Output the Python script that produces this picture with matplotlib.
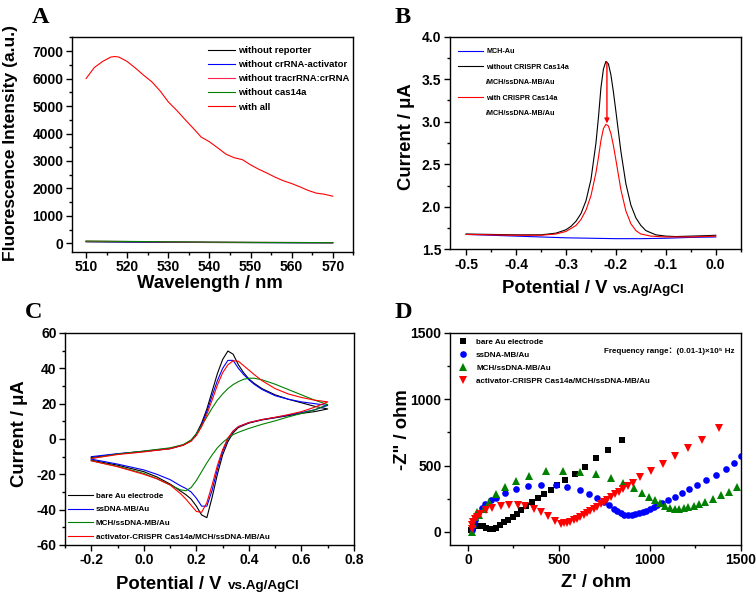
import matplotlib
matplotlib.use("Agg")
import matplotlib.pyplot as plt
from matplotlib.lines import Line2D
from matplotlib.ticker import MultipleLocator, FormatStrFormatter

plt.rcParams['font.family'] = ['Liberation Sans', 'DejaVu Sans', 'Noto Sans CJK SC']
plt.rcParams['font.weight'] = 'bold'
plt.rcParams['axes.unicode_minus'] = False

# ---- panel A: fluorescence ----
wl_all = [510, 512, 514, 516, 517, 518, 520, 522, 524, 526, 528, 530, 532, 534, 536, 538,
          540, 542, 544, 546, 548, 550, 552, 554, 556, 558, 560, 562, 564, 566, 568, 570]
with_all = [6000, 6400, 6620, 6780, 6800, 6780, 6620, 6380, 6120, 5880, 5550, 5150, 4850, 4520,
            4200, 3870, 3700, 3480, 3250, 3120, 3050, 2860, 2700, 2560, 2410, 2280, 2180, 2060,
            1930, 1830, 1790, 1720]
wl_low = [510, 520, 530, 540, 550, 560, 570]
no_reporter = [60, 50, 40, 35, 30, 25, 20]
no_activator = [70, 60, 50, 40, 35, 30, 30]
no_tracr = [80, 70, 55, 45, 40, 35, 30]
no_cas = [90, 75, 60, 50, 40, 35, 30]

# ---- panel B: DPV ----
b_mch_e = [-0.5, -0.4, -0.3, -0.2, -0.15, -0.1, -0.05, 0.0]
b_mch_i = [1.675, 1.655, 1.635, 1.625, 1.625, 1.63, 1.64, 1.645]
b_black_e = [-0.5, -0.45, -0.4, -0.35, -0.32, -0.3, -0.29, -0.28, -0.27, -0.26, -0.25, -0.24,
             -0.235, -0.23, -0.225, -0.22, -0.215, -0.21, -0.205, -0.2, -0.19, -0.18, -0.17,
             -0.16, -0.15, -0.14, -0.12, -0.1, -0.08, -0.05, -0.02, 0.0]
b_black_i = [1.68, 1.675, 1.67, 1.67, 1.69, 1.73, 1.77, 1.83, 1.92, 2.07, 2.32, 2.75,
             3.05, 3.40, 3.62, 3.71, 3.68, 3.55, 3.35, 3.12, 2.65, 2.27, 2.02,
             1.87, 1.78, 1.72, 1.67, 1.655, 1.65, 1.655, 1.66, 1.665]
b_red_e = [-0.5, -0.4, -0.35, -0.32, -0.3, -0.28, -0.27, -0.26, -0.25, -0.24, -0.235, -0.23,
           -0.225, -0.22, -0.215, -0.21, -0.205, -0.2, -0.19, -0.18, -0.17, -0.16, -0.15,
           -0.13, -0.1, -0.05, 0.0]
b_red_i = [1.675, 1.665, 1.665, 1.68, 1.71, 1.78, 1.85, 1.96, 2.13, 2.40, 2.58, 2.78,
           2.92, 2.97, 2.95, 2.86, 2.72, 2.55, 2.20, 1.95, 1.80, 1.72, 1.68,
           1.655, 1.645, 1.645, 1.655]

# ---- panel C: CV ----
cv_up_e = [-0.2, -0.1, 0.0, 0.1, 0.15, 0.18, 0.2, 0.22, 0.24, 0.26, 0.28, 0.3, 0.32, 0.34,
           0.36, 0.38, 0.4, 0.42, 0.45, 0.5, 0.55, 0.6, 0.65, 0.7]
cv_dn_e = [0.7, 0.65, 0.6, 0.55, 0.5, 0.45, 0.4, 0.36, 0.34, 0.32, 0.3, 0.28, 0.26, 0.24,
           0.22, 0.2, 0.18, 0.16, 0.14, 0.1, 0.05, 0.0, -0.1, -0.2]
bare_up = [-10.5, -8.5, -7, -5.5, -3.5, -1, 3, 9, 17, 27, 37, 45, 49.8, 48,
           42, 37.5, 34, 31.5, 28.5, 25, 22.5, 20.5, 18.5, 17]
bare_dn = [17, 15.5, 14.5, 13.2, 12, 10.8, 9, 6.5, 3.5, -1.5, -9, -20, -33, -44.5,
           -43, -38, -34, -31.5, -29.5, -25.5, -21.5, -18.5, -14.8, -12]
ss_up = [-10, -8.3, -7, -5.3, -3.3, -1, 2.5, 8, 15.5, 24.5, 33, 40, 44.5, 44.5,
         40, 36.5, 33.5, 31, 28, 24.5, 22.5, 21, 20, 19]
ss_dn = [19, 16.5, 15, 13.5, 12.2, 11, 9.3, 7, 4.5, 0, -7, -17, -29, -38,
         -38, -33.5, -30, -28, -26.5, -23, -20, -17.5, -14.2, -11.4]
mch_up = [-11, -8.5, -6.8, -5, -3.2, -0.5, 3, 7.5, 12.5, 17.5, 22, 25.5, 28.5, 30.8,
          32.5, 33.8, 34.4, 34.4, 33.5, 31, 28, 25, 22, 19.5]
mch_dn = [19.5, 16.5, 14.5, 12.5, 10.3, 8.3, 6, 3.8, 2.5, 0.5, -2, -5, -9, -13.5,
          -18.5, -23.5, -27.5, -29.3, -28.8, -26, -22.5, -19.5, -15.5, -12.3]
act_up = [-11, -8.8, -7.3, -5.5, -3.5, -1.2, 2, 7, 14, 22, 30.5, 37.5, 42, 44.3,
          44, 41.5, 39, 36.5, 33, 28.5, 25.5, 23.5, 22, 21]
act_dn = [21, 18, 15.5, 13.8, 12.3, 11, 9.3, 7, 4.5, 0.5, -6, -15, -26, -36,
          -41.5, -41, -37.5, -34, -31, -26, -22.5, -20, -15.7, -12.3]

# ---- panel D: Nyquist ----
bare_zr = [17, 28, 45, 63, 82, 100, 119, 138, 156, 175, 199, 221, 245, 268, 292, 320,
           351, 385, 418, 454, 491, 534, 586, 641, 704, 771, 845]
bare_zi = [12, 32, 42, 45, 42, 32, 22, 22, 32, 50, 70, 92, 115, 137, 162, 192,
           222, 252, 282, 317, 352, 392, 437, 492, 557, 617, 690]
ss_zr = [20, 30, 40, 55, 75, 95, 125, 156, 204, 264, 329, 403, 483, 545, 613, 667, 710,
         750, 775, 800, 820, 840, 860, 880, 900, 920, 940, 960, 980, 1000, 1020, 1040, 1065,
         1100, 1135, 1175, 1215, 1260, 1310, 1360, 1415, 1460, 1500]
ss_zi = [10, 50, 90, 140, 180, 210, 240, 257, 292, 320, 345, 355, 355, 340, 312, 287, 257,
         225, 200, 175, 155, 140, 130, 125, 127, 132, 140, 150, 160, 175, 190, 205, 220,
         240, 265, 290, 320, 355, 390, 430, 475, 520, 575]
mch_zr = [20, 30, 40, 50, 60, 87, 115, 156, 203, 264, 338, 428, 520, 613, 704, 784, 853,
          911, 955, 995, 1025, 1055, 1085, 1110, 1135, 1160, 1185, 1210, 1240, 1270, 1305,
          1345, 1390, 1435, 1480]
mch_zi = [0, 60, 110, 150, 125, 175, 225, 287, 337, 382, 420, 455, 462, 450, 437, 407, 370,
          330, 295, 262, 238, 215, 195, 182, 175, 173, 177, 185, 197, 212, 228, 250,
          275, 300, 340]
act_zr = [20, 25, 30, 41, 50, 69, 97, 134, 180, 227, 273, 316, 362, 403, 440, 478, 509,
          530, 543, 560, 580, 600, 617, 635, 654, 672, 691, 710, 729, 748, 766, 785, 807,
          830, 853, 878, 905, 945, 1005, 1070, 1140, 1210, 1285, 1380]
act_zi = [20, 50, 70, 100, 115, 137, 162, 180, 195, 200, 200, 192, 175, 150, 117, 80, 62,
          64, 67, 77, 87, 99, 112, 127, 142, 158, 175, 190, 207, 225, 242, 262, 282,
          303, 325, 345, 367, 410, 460, 510, 570, 630, 695, 785]

fig = plt.figure(figsize=(7.56, 5.94), dpi=100)
W, H = 756.0, 594.0


def add_axes(x0, y0, x1, y1):
    return fig.add_axes([x0 / W, 1 - y1 / H, (x1 - x0) / W, (y1 - y0) / H])


def style(ax):
    for s in ax.spines.values():
        s.set_linewidth(1.0)
    ax.tick_params(which='both', direction='out', top=False, right=False, width=1.0,
                   labelsize=10, pad=2)
    ax.tick_params(which='major', length=4)
    ax.tick_params(which='minor', length=2.2)
    for lab in ax.get_xticklabels() + ax.get_yticklabels():
        lab.set_fontweight('bold')


def ftext(x, y, s, **kw):
    return fig.text(x / W, 1 - y / H, s, **kw)


# Panel A
axA = add_axes(71.7, 37.3, 353.3, 251.7)
axA.plot(wl_low, no_reporter, color='black', lw=0.8, label='without reporter')
axA.plot(wl_low, no_activator, color='#0000ff', lw=0.8, label='without crRNA-activator')
axA.plot(wl_low, no_tracr, color='#ff2050', lw=0.8, label='without tracrRNA:crRNA')
axA.plot(wl_low, no_cas, color='#008000', lw=0.8, label='without cas14a')
axA.plot(wl_all, with_all, color='#ff0000', lw=0.8, label='with all')
axA.set_xlim(506.5, 575)
axA.set_ylim(-300, 7500)
axA.xaxis.set_major_locator(MultipleLocator(10))
axA.xaxis.set_minor_locator(MultipleLocator(5))
axA.yaxis.set_major_locator(MultipleLocator(1000))
axA.yaxis.set_minor_locator(MultipleLocator(500))
style(axA)
axA.legend(loc='upper left', bbox_to_anchor=(0.485, 0.96), frameon=False,
           prop={'size': 6.8, 'weight': 'bold'}, handlelength=2.8, handletextpad=0.3,
           labelspacing=0.55, borderpad=0, borderaxespad=0)
ftext(11, 143, 'Fluorescence Intensity (a.u.)', rotation=90, ha='center', va='center',
      fontsize=12.6, fontweight='bold')
ftext(210, 283, 'Wavelength / nm', ha='center', va='center', fontsize=13.3, fontweight='bold')
ftext(32, 23, 'A', fontsize=17.5, fontweight='bold', family='Liberation Serif', va='baseline')

# Panel B
axB = add_axes(449.7, 36.7, 740.7, 249.3)
axB.plot(b_mch_e, b_mch_i, color='#0000ff', lw=0.8)
axB.plot(b_black_e, b_black_i, color='black', lw=0.8)
axB.plot(b_red_e, b_red_i, color='#ff0000', lw=0.8)
axB.annotate('', xy=(-0.218, 2.98), xytext=(-0.218, 3.70),
             arrowprops=dict(arrowstyle='-|>', color='#ff0000', lw=1.0,
                             mutation_scale=7, shrinkA=0, shrinkB=0))
axB.set_xlim(-0.533, 0.05)
axB.set_ylim(1.5, 4.0)
axB.xaxis.set_major_locator(MultipleLocator(0.1))
axB.xaxis.set_minor_locator(MultipleLocator(0.05))
axB.yaxis.set_major_locator(MultipleLocator(0.5))
axB.yaxis.set_minor_locator(MultipleLocator(0.25))
axB.xaxis.set_major_formatter(FormatStrFormatter('%.1f'))
axB.yaxis.set_major_formatter(FormatStrFormatter('%.1f'))
style(axB)
blank = Line2D([], [], color='none')
hB = [Line2D([], [], color='#0000ff', lw=0.8), Line2D([], [], color='black', lw=0.8), blank,
      Line2D([], [], color='#ff0000', lw=0.8), blank]
lB = ['MCH-Au', 'without CRISPR Cas14a', '/MCH/ssDNA-MB/Au', 'with CRISPR Cas14a',
      '/MCH/ssDNA-MB/Au']
axB.legend(hB, lB, loc='upper left', bbox_to_anchor=(0.028, 0.945), frameon=False,
           prop={'size': 5.2, 'weight': 'bold'}, handlelength=3.5, handletextpad=0.4,
           labelspacing=1.15, borderpad=0, borderaxespad=0)
ftext(406, 137, 'Current / μA', rotation=90, ha='center', va='center', fontsize=13.3,
      fontweight='bold')
ftext(502, 293, 'Potential / V', ha='left', va='baseline', fontsize=13.3, fontweight='bold')
ftext(613, 293, 'vs.Ag/AgCl', ha='left', va='baseline', fontsize=9.7, fontweight='bold')
ftext(395, 23, 'B', fontsize=17.5, fontweight='bold', family='Liberation Serif', va='baseline')

# Panel C
axC = add_axes(65, 333, 354, 545)
axC.plot(cv_up_e + cv_dn_e, bare_up + bare_dn, color='black', lw=0.8, label='bare Au electrode')
axC.plot(cv_up_e + cv_dn_e, ss_up + ss_dn, color='#0000ff', lw=0.8, label='ssDNA-MB/Au')
axC.plot(cv_up_e + cv_dn_e, mch_up + mch_dn, color='#008000', lw=0.8, label='MCH/ssDNA-MB/Au')
axC.plot(cv_up_e + cv_dn_e, act_up + act_dn, color='#ff0000', lw=0.8,
         label='activator-CRISPR Cas14a/MCH/ssDNA-MB/Au')
axC.set_xlim(-0.3, 0.8)
axC.set_ylim(-60, 60)
axC.xaxis.set_major_locator(MultipleLocator(0.2))
axC.xaxis.set_minor_locator(MultipleLocator(0.1))
axC.yaxis.set_major_locator(MultipleLocator(20))
axC.yaxis.set_minor_locator(MultipleLocator(10))
axC.xaxis.set_major_formatter(FormatStrFormatter('%.1f'))
style(axC)
axC.legend(loc='lower left', bbox_to_anchor=(0.012, 0.02), frameon=False,
           prop={'size': 5.8, 'weight': 'bold'}, handlelength=3.0, handletextpad=0.4,
           labelspacing=0.75, borderpad=0, borderaxespad=0)
ftext(20, 434, 'Current / μA', rotation=90, ha='center', va='center', fontsize=13.3,
      fontweight='bold')
ftext(116, 589, 'Potential / V', ha='left', va='baseline', fontsize=13.3, fontweight='bold')
ftext(228, 589, 'vs.Ag/AgCl', ha='left', va='baseline', fontsize=9.7, fontweight='bold')
ftext(25, 318, 'C', fontsize=17.5, fontweight='bold', family='Liberation Serif', va='baseline')

# Panel D
axD = add_axes(449.7, 333, 741, 545)
axD.plot(bare_zr, bare_zi, 's', color='black', ms=4.2, mew=0, label='bare Au electrode')
axD.plot(ss_zr, ss_zi, 'o', color='#0000ff', ms=4.8, mew=0, label='ssDNA-MB/Au')
axD.plot(mch_zr, mch_zi, '^', color='#008000', ms=5.2, mew=0, label='MCH/ssDNA-MB/Au')
axD.plot(act_zr, act_zi, 'v', color='#ff0000', ms=5.2, mew=0,
         label='activator-CRISPR Cas14a/MCH/ssDNA-MB/Au')
axD.set_xlim(-100, 1500)
axD.set_ylim(-100, 1500)
axD.xaxis.set_major_locator(MultipleLocator(500))
axD.xaxis.set_minor_locator(MultipleLocator(250))
axD.yaxis.set_major_locator(MultipleLocator(500))
axD.yaxis.set_minor_locator(MultipleLocator(250))
style(axD)
axD.legend(loc='upper left', bbox_to_anchor=(0.03, 0.975), frameon=False,
           prop={'size': 5.8, 'weight': 'bold'}, handlelength=1.2, handletextpad=1.0,
           labelspacing=0.65, borderpad=0, borderaxespad=0)
axD.text(0.979, 0.912, 'Frequency range：(0.01-1)×10⁵ Hz', transform=axD.transAxes,
         ha='right', va='center', fontsize=5.8, fontweight='bold')
ftext(403, 430, '-Z" / ohm', rotation=90, ha='center', va='center', fontsize=13.3,
      fontweight='bold')
ftext(596, 587, "Z' / ohm", ha='center', va='baseline', fontsize=13.3, fontweight='bold')
ftext(395, 318, 'D', fontsize=17.5, fontweight='bold', family='Liberation Serif', va='baseline')

fig.savefig('out.png', dpi=100)
